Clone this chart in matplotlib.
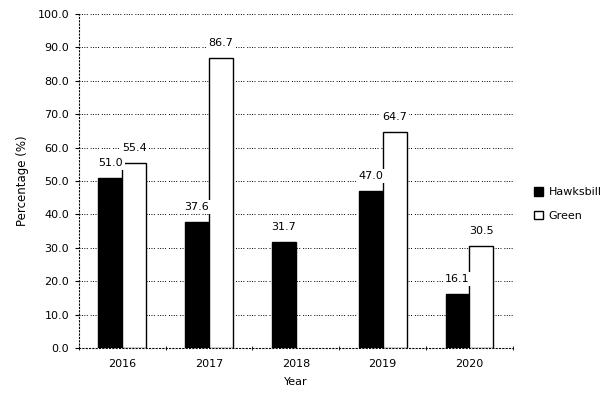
import numpy as np
import matplotlib
matplotlib.use("Agg")
import matplotlib.pyplot as plt

# Data
years = ["2016", "2017", "2018", "2019", "2020"]
hawksbill = [51.0, 37.6, 31.7, 47.0, 16.1]
green = [55.4, 86.7, None, 64.7, 30.5]

plt.rcParams["font.family"] = "DejaVu Sans"
plt.rcParams["font.size"] = 8

fig = plt.figure(figsize=(6.15, 4.0), dpi=100)
ax = fig.add_axes([0.128, 0.13, 0.706, 0.835])

x = np.arange(len(years))
width = 0.276

h_bars = ax.bar(x - width / 2, hawksbill, width, color="black", edgecolor="black",
                linewidth=1, label="Hawksbill", zorder=3)
g_vals = [v if v is not None else 0 for v in green]
g_bars = ax.bar(x + width / 2, g_vals, width, color="white", edgecolor="black",
                linewidth=1, label="Green", zorder=3)
for bar, v in zip(g_bars, green):
    if v is None:
        bar.set_visible(False)

# value labels with white boxes
for xi, v in zip(x - width / 2, hawksbill):
    ax.text(xi, v + 4.5, f"{v:.1f}", ha="center", va="center", zorder=5,
            bbox=dict(facecolor="white", edgecolor="none", pad=1.5))
for xi, v in zip(x + width / 2, green):
    if v is None:
        continue
    ax.text(xi, v + 4.5, f"{v:.1f}", ha="center", va="center", zorder=5,
            bbox=dict(facecolor="white", edgecolor="none", pad=1.5))

ax.set_xlim(-0.5, len(years) - 0.5)
ax.set_ylim(0, 100)
ax.set_yticks(np.arange(0, 101, 10))
ax.set_yticklabels([f"{t:.1f}" for t in np.arange(0, 101, 10)])
ax.set_xticks(x)
ax.set_xticklabels(years)
ax.set_xticks(np.arange(-0.5, len(years), 1), minor=True)
ax.tick_params(axis="x", which="major", length=0, pad=8)
ax.tick_params(axis="x", which="minor", length=3, direction="inout")
ax.tick_params(axis="y", length=3, pad=4)

ax.grid(axis="y", linestyle=(0, (1, 1.5, 1, 1.5, 1, 1.5, 1, 3)), color="black",
        linewidth=0.7, zorder=0)
for side in ["top", "right"]:
    ax.spines[side].set_visible(False)
for side in ["left", "bottom"]:
    ax.spines[side].set_linestyle((0, (1, 2)))
    ax.spines[side].set_linewidth(0.8)

ax.set_xlabel("Year", labelpad=6)
ax.set_ylabel("Percentage (%)", labelpad=6, fontsize=8.5)

fig.legend(handles=[h_bars, g_bars], labels=["Hawksbill", "Green"],
           loc="center left", bbox_to_anchor=(0.852, 0.49), frameon=False,
           handlelength=0.8, handleheight=0.8, labelspacing=1.2, handletextpad=0.5)

fig.savefig("out.png", dpi=100)
